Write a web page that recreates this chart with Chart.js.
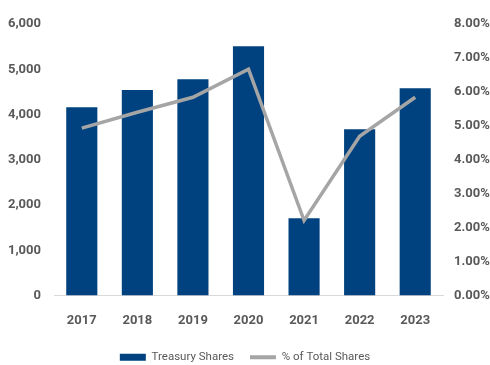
<!DOCTYPE html>
<html>
<head>
<meta charset="utf-8">
<script src="https://cdn.jsdelivr.net/npm/chart.js@4.4.1/dist/chart.umd.min.js"></script>
<style>
  html, body { margin: 0; padding: 0; background: #ffffff; }
  #wrap { width: 490px; height: 365px; position: relative; }
</style>
</head>
<body>
<div id="wrap"><canvas id="chart" width="490" height="365"></canvas></div>
<script>
// Treasury shares held at year end and their share of total shares outstanding
const years = ['2017', '2018', '2019', '2020', '2021', '2022', '2023'];
const treasuryShares = [4160, 4540, 4780, 5510, 1705, 3675, 4580];
const pctOfTotal = [4.93, 5.40, 5.84, 6.67, 2.21, 4.69, 5.84];
const leftTicks = [0, 1000, 2000, 3000, 4000, 5000, 6000];
const rightTicks = [0, 1, 2, 3, 4, 5, 6, 7, 8];

const FONT = "Roboto, 'Liberation Sans', sans-serif";
const TEXT = '#595959';

new Chart(document.getElementById('chart'), {
  data: {
    labels: years,
    datasets: [
      {
        type: 'line',
        label: '% of Total Shares',
        data: pctOfTotal,
        yAxisID: 'yPct',
        borderColor: '#A5A5A5',
        borderWidth: 3.5,
        pointRadius: 0,
        pointHoverRadius: 0,
        pointStyle: 'line',
        pointBorderColor: '#A5A5A5',
        pointBorderWidth: 4,
        tension: 0,
        order: 0
      },
      {
        type: 'bar',
        label: 'Treasury Shares',
        data: treasuryShares,
        yAxisID: 'yShares',
        backgroundColor: '#00427F',
        borderColor: '#00427F',
        borderWidth: 0,
        pointStyle: 'rect',
        barPercentage: 0.56,
        categoryPercentage: 1.0,
        order: 1
      }
    ]
  },
  options: {
    responsive: false,
    animation: false,
    layout: { padding: { top: 24, left: 0, right: 0, bottom: -8 } },
    plugins: {
      tooltip: { enabled: false },
      legend: {
        position: 'bottom',
        reverse: true,
        labels: {
          usePointStyle: true,
          pointStyleWidth: 26,
          boxHeight: 7,
          padding: 16,
          color: TEXT,
          font: { family: FONT, size: 11.5 }
        }
      }
    },
    scales: {
      x: {
        grid: { display: false, drawTicks: false },
        border: { display: true, color: '#D9D9D9', width: 1 },
        ticks: {
          color: TEXT,
          padding: 17,
          font: { family: FONT, size: 13, weight: 'bold' }
        },
        afterFit: (s) => { s.height = 40; }
      },
      yShares: {
        position: 'left',
        min: 0,
        max: 6000,
        afterBuildTicks: (s) => { s.ticks = leftTicks.map(v => ({ value: v })); },
        grid: { display: false, drawTicks: false },
        border: { display: false },
        ticks: {
          color: TEXT,
          padding: 13,
          font: { family: FONT, size: 13, weight: 'bold' },
          callback: (v) => v.toLocaleString('en-US')
        },
        afterFit: (s) => { s.width = 54; }
      },
      yPct: {
        position: 'right',
        min: 0,
        max: 8,
        afterBuildTicks: (s) => { s.ticks = rightTicks.map(v => ({ value: v })); },
        grid: { display: false, drawTicks: false },
        border: { display: false },
        ticks: {
          color: TEXT,
          padding: 11,
          font: { family: FONT, size: 13, weight: 'bold' },
          callback: (v) => v.toFixed(2) + '%'
        },
        afterFit: (s) => { s.width = 47; }
      }
    }
  }
});
</script>
</body>
</html>
